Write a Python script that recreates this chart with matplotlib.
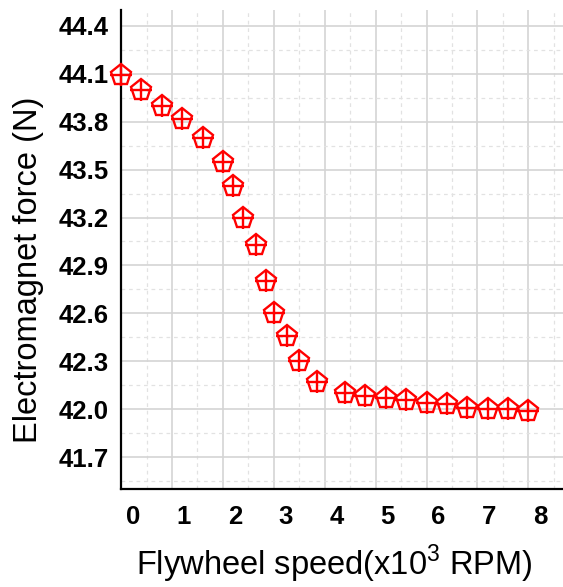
import numpy as np
import matplotlib
matplotlib.use("Agg")
import matplotlib.pyplot as plt
from matplotlib.transforms import ScaledTranslation

plt.rcParams['font.family'] = ['Liberation Sans', 'DejaVu Sans']
plt.rcParams['mathtext.fontset'] = 'custom'
plt.rcParams['mathtext.rm'] = 'Liberation Sans'

# Flywheel speed (x10^3 RPM) and electromagnet force (N)
speed = [0.0, 0.4, 0.8, 1.2, 1.6, 2.0, 2.2, 2.4, 2.65, 2.85, 3.0, 3.25, 3.5, 3.85,
         4.4, 4.8, 5.2, 5.6, 6.0, 6.4, 6.8, 7.2, 7.6, 8.0]
force = [44.09, 44.0, 43.9, 43.82, 43.70, 43.55, 43.40, 43.20, 43.03, 42.80, 42.60,
         42.46, 42.30, 42.17, 42.10, 42.08, 42.07, 42.06, 42.04, 42.03, 42.01, 42.00,
         42.00, 41.99]

x_ticks = [0, 1, 2, 3, 4, 5, 6, 7, 8]
y_ticks = [41.7, 42.0, 42.3, 42.6, 42.9, 43.2, 43.5, 43.8, 44.1, 44.4]
y_labels = ["41.7", "42.0", "42.3", "42.6", "42.9", "43.2", "43.5", "43.8", "44.1", "44.4"]

fig = plt.figure(figsize=(5.63, 5.87), dpi=100)
ax = fig.add_axes([0.215, 0.167, 0.785, 0.816])

ax.plot(speed, force, linestyle='none', marker='p', markersize=15.5,
        markerfacecolor='none', markeredgecolor='#ff0000', markeredgewidth=1.7,
        clip_on=False, zorder=3)
ax.plot(speed, force, linestyle='none', marker='+', markersize=15.5,
        markeredgecolor='#ff0000', markeredgewidth=1.7, clip_on=False, zorder=3)

ax.set_xlim(0, 8.68)
ax.set_ylim(41.5, 44.5)

ax.set_xticks(x_ticks)
ax.set_xticklabels([str(v) for v in x_ticks])
ax.set_xticks(np.arange(0.5, 9, 1.0), minor=True)
ax.set_yticks(y_ticks)
ax.set_yticklabels(y_labels)
ax.set_yticks([41.55 + 0.3 * i for i in range(10)], minor=True)

ax.tick_params(which='both', length=0)
ax.tick_params(axis='x', pad=11.5, labelsize=18.5)
ax.tick_params(axis='y', pad=9, labelsize=18.5)
for lab in ax.get_xticklabels() + ax.get_yticklabels():
    lab.set_fontweight('bold')
offset = ScaledTranslation(0.12, 0, fig.dpi_scale_trans)
for lab in ax.get_xticklabels():
    lab.set_transform(lab.get_transform() + offset)

ax.grid(which='major', color='#d4d4d4', linewidth=1.2)
ax.grid(which='minor', color='#e2e2e2', linewidth=0.9, linestyle=(0, (3, 3)))
ax.set_axisbelow(True)

for side in ['top', 'right']:
    ax.spines[side].set_visible(False)
for side in ['left', 'bottom']:
    ax.spines[side].set_linewidth(1.6)
    ax.spines[side].set_color('black')

ax.set_xlabel(r"Flywheel speed(x10$^{\mathregular{3}}$ RPM)", fontsize=23.5, labelpad=10)
ax.set_ylabel("Electromagnet force (N)", fontsize=23.5, labelpad=10)
ax.xaxis.label.set_x(0.482)
ax.yaxis.label.set_y(0.457)

fig.savefig("out.png", dpi=100)
